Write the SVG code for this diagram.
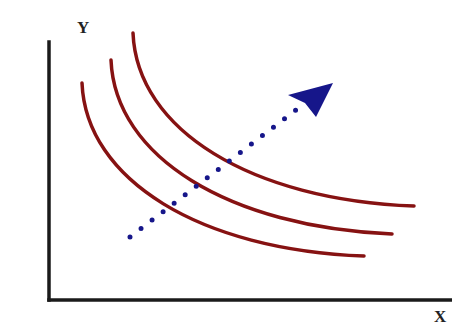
<svg xmlns="http://www.w3.org/2000/svg" width="452" height="326" viewBox="0 0 452 326">
<style>
.axis{stroke:#1a1a1a;stroke-width:3.5;fill:none;stroke-linecap:square}
.curve{stroke:#861212;stroke-width:3.5;fill:none;stroke-linecap:round}
.dots{stroke:#16168a;stroke-width:5;fill:none;stroke-linecap:round;stroke-dasharray:0 13.9}
.lbl{font-family:"Liberation Serif",serif;font-size:17px;font-weight:bold;fill:#222}
</style>
<rect width="452" height="326" fill="#ffffff"/>
<g id="axes">
<line class="axis" x1="49" y1="42" x2="49" y2="300"/>
<line class="axis" x1="49" y1="300" x2="452" y2="300"/>
<text class="lbl" x="77" y="33">Y</text>
<text class="lbl" x="434" y="322">X</text>
</g>
<g id="curves">
<path id="curve1" class="curve" d="M82,83 C86,180 200,250 364,256"/>
<path id="curve2" class="curve" d="M111,60 C115,157 229,227 392,234"/>
<path id="curve3" class="curve" d="M133,33 C137,130 251,200 414,206"/>
</g>
<g id="connectors">
<path class="dots" d="M130,237 L305,103"/>
<polygon points="333,83 288,95 305,103 316,117" fill="#16168a"/>
</g>
</svg>
